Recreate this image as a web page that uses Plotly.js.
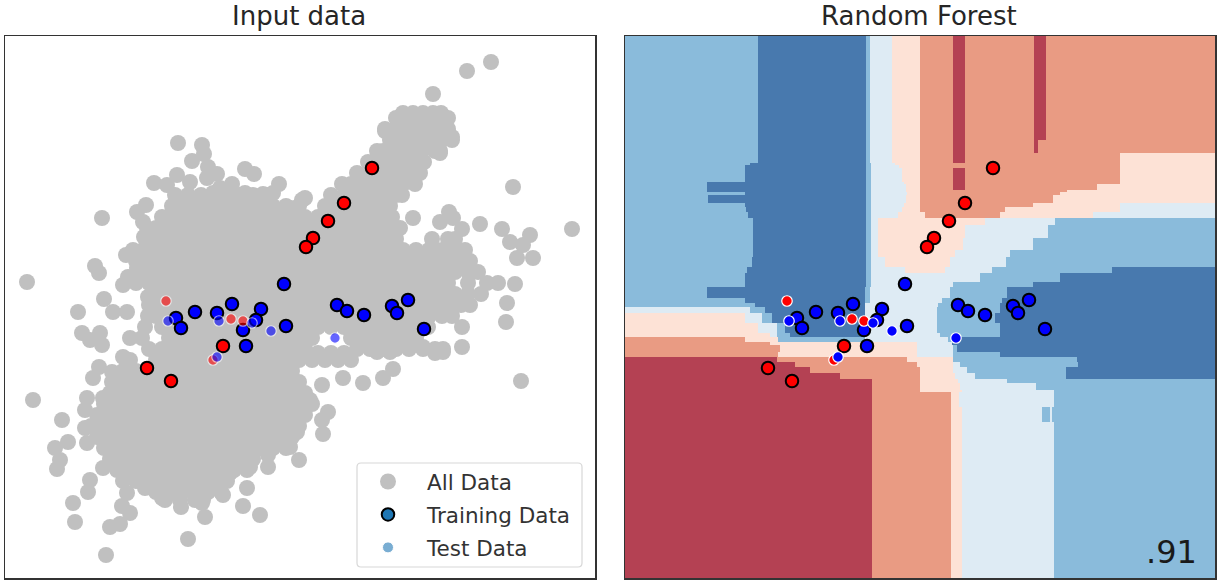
<!DOCTYPE html>
<html>
<head>
<meta charset="utf-8">
<script src="https://cdn.plot.ly/plotly-3.0.1.min.js"></script>
<style>html,body{margin:0;padding:0;background:#fff}</style>
</head>
<body>
<div id="chart" style="width:1221px;height:584px"></div>
<script>
// Body of the grey "All Data" cloud, row by row: [y, x values]
const allDataRows = [
[113,[403,413,423,433,441]],
[118,[396,403,416,429,442,448]],
[129,[385,396,409,422,435,448]],
[140,[390,403,416,429,442,452]],
[151,[377,383,396,409,422,435,440]],
[162,[368,377,390,403,416,424]],
[173,[357,370,383,396,409,420]],
[184,[342,351,364,377,390,403,415]],
[195,[175,188,201,214,227,240,253,266,331,344,357,370,383,396,402]],
[206,[172,182,195,208,221,234,247,260,273,286,299,325,338,351,364,377,390]],
[217,[162,175,188,201,214,227,240,253,266,279,292,305,318,331,344,357,370,383,392]],
[228,[147,156,169,182,195,208,221,234,247,260,273,286,299,312,325,338,351,364,377,390,400]],
[239,[149,162,175,188,201,214,227,240,253,266,279,292,305,318,331,344,357,370,383,396,432,448,455]],
[250,[143,156,169,182,195,208,221,234,247,260,273,286,299,312,325,338,351,364,377,390,403,416,429,442,455,465]],
[261,[136,149,162,175,188,201,214,227,240,253,266,279,292,305,318,331,344,357,370,383,396,409,422,435,448,461,470]],
[272,[143,156,169,182,195,208,221,234,247,260,273,286,299,312,325,338,351,364,377,390,403,416,429,442,455,468,478]],
[283,[136,149,162,175,188,201,214,227,240,253,266,279,292,305,318,331,344,357,370,383,396,409,422,435,448,468,487,498]],
[294,[156,169,182,195,208,221,234,247,260,273,286,299,312,325,338,351,364,377,390,403,416,429,442,455,468,481]],
[305,[149,162,175,188,201,214,227,240,253,266,279,292,305,318,331,344,357,370,383,396,409,422,435,448,461,470]],
[316,[148,156,169,182,195,208,221,234,247,260,273,286,299,312,325,338,351,364,377,390,403,416,429,442,452]],
[327,[145,162,175,188,201,214,227,240,253,266,279,292,305,318,331,344,357,370,383,396,409,422,428]],
[338,[130,142,169,182,195,208,221,234,247,260,273,286,299,312,351,364,377,390,403,416]],
[349,[149,162,175,188,201,214,227,240,253,266,279,292,305,357,370,383,396,409,423,435,443]],
[353,[318,331,344]],
[360,[130,156,169,182,195,208,221,234,247,260,273,286,299,312,325,338,351]],
[371,[123,136,149,162,175,188,201,214,227,240,253,266,279,292]],
[382,[118,130,143,156,169,182,195,208,221,234,247,260,273,286,299]],
[393,[110,123,136,149,162,175,188,201,214,227,240,253,266,279,292,305]],
[404,[104,117,130,143,156,169,182,195,208,221,234,247,260,273,286,299,312]],
[415,[97,110,123,136,149,162,175,188,201,214,227,240,253,266,279,292,305]],
[426,[91,104,117,130,143,156,169,182,195,208,221,234,247,260,273,286,299]],
[437,[97,110,123,136,149,162,175,188,201,214,227,240,253,266,279,292]],
[448,[104,117,130,143,156,169,182,195,208,221,234,247,260,273,286]],
[459,[110,123,136,149,162,175,188,201,214,227,240,253]],
[470,[117,130,143,156,169,182,195,208,221,234,247]],
[481,[123,136,149,162,175,188,201,214,227]],
[492,[156,169,182,195,208,221]],
[500,[165,180,195,203]]
];
// Scattered grey points around the cloud
const outlierX = [433,467,491,513,572,385,452,440,305,413,449,440,462,453,480,502,510,523,530,517,533,515,507,506,462,462,521,443,435,423,393,383,363,343,322,390,377,
178,202,204,192,208,217,245,254,279,232,177,190,154,167,207,263,273,245,268,290,302,220,213,137,146,143,102,144,126,133,95,99,27,123,128,137,104,148,
78,113,127,82,100,90,102,123,99,93,112,112,87,33,85,103,62,85,68,87,55,60,57,103,90,88,73,75,110,120,106,188,205,181,130,122,127,145,162,202,223,243,260,247,230,250,268,268,299,290,297,323,322,328,310];
const outlierY = [94,71,62,187,229,131,137,153,198,218,212,222,229,218,224,229,242,245,235,258,258,284,303,322,327,347,381,352,353,347,369,378,383,378,385,352,352,
143,145,154,161,167,174,169,174,184,184,175,182,183,185,178,194,193,193,207,208,200,188,193,212,205,222,218,237,255,250,266,273,282,285,277,268,299,297,
312,312,312,333,333,340,345,357,367,378,372,382,398,400,410,398,420,428,442,443,448,460,469,468,480,492,503,522,527,524,555,539,517,507,513,506,493,488,498,503,495,506,515,488,473,467,467,455,460,447,432,434,420,412,400];

const trainBlueX = [284,232,195,261,217,176,181,256,243,286,246,337,347,364,392,397,408,424];
const trainBlueY = [284,304,312,309,313,318,328,320,330,326,346,305,311,315,306,313,300,329];
const trainRedX = [372,344,328,313,306,223,147,171];
const trainRedY = [168,203,221,238,247,346,368,381];
const testRedX = [166,231,243,213];
const testRedY = [301,319,321,360];
const testBlueX = [168,219,252,271,217,335];
const testBlueY = [321,321,323,331,357,338];

// Forest decision regions, one row per band: [band bottom, level, right end, level, right end, ...]
// levels: 0 dark red, 1 salmon, 2 peach, 3 pale blue, 4 mid blue, 5 dark blue
const regionTop = 36;
const regionLeft = 625;
const regionRows = [
[140,4,758,5,866,4,870,3,892,2,920,1,953,0,965,1,1034,0,1046,1,1215],
[153,4,758,5,866,4,870,3,892,2,920,1,953,0,965,1,1034,0,1038,1,1215],
[163,4,758,5,866,4,870,3,892,2,920,1,953,0,965,1,1120,2,1215],
[165,4,750,5,866,4,871,3,895,2,920,1,1120,2,1215],
[168,4,745,5,866,4,871,3,899,2,920,1,1120,2,1215],
[182,4,745,5,866,4,871,3,902,2,920,1,953,0,965,1,1120,2,1215],
[184,4,707,5,866,4,871,3,904,2,920,1,953,0,965,1,1120,2,1215],
[190,4,707,5,866,4,871,3,906,2,920,1,953,0,965,1,1097,2,1215],
[192,4,707,5,866,4,871,3,906,2,920,1,1067,2,1215],
[195,4,745,5,866,4,871,3,907,2,920,1,1060,2,1215],
[203,4,708,5,866,4,871,3,906,2,920,1,1053,2,1215],
[207,4,745,5,866,4,871,3,904,2,920,1,1033,2,1120,3,1215],
[212,4,746,5,866,4,871,3,902,2,920,1,1005,2,1120,3,1215],
[218,4,748,5,866,4,871,3,898,2,925,1,1000,2,1093,3,1215],
[225,4,753,5,866,4,871,3,878,2,985,3,1055,4,1215],
[238,4,753,5,866,4,871,3,878,2,965,3,1048,4,1215],
[250,4,753,5,866,4,871,3,878,2,963,3,1033,4,1215],
[257,4,753,5,866,4,871,3,878,2,955,3,1010,4,1215],
[267,4,752,5,866,4,871,3,885,2,950,3,1006,4,1215],
[273,4,747,5,866,4,871,3,905,2,945,3,992,4,1112,5,1215],
[282,4,745,5,866,4,871,3,980,4,1060,5,1215],
[287,4,745,5,866,4,871,3,953,4,1033,5,1215],
[298,4,707,5,865,4,870,3,950,4,1007,5,1215],
[303,4,745,5,865,4,870,3,942,4,1002,5,1215],
[307,4,755,5,865,3,938,4,1000,5,1215],
[313,3,750,4,765,5,865,3,937,4,1000,5,1215],
[323,2,745,3,762,4,772,5,865,3,937,4,995,5,1215],
[333,2,758,3,777,4,785,5,865,3,937,4,1000,5,1215],
[337,2,770,3,777,4,790,5,865,3,940,4,1000,5,1215],
[342,1,745,2,778,4,865,3,948,4,958,5,1215],
[345,1,770,2,917,3,952,5,1215],
[352,1,780,2,917,3,953,4,957,5,1215],
[357,1,778,2,917,3,953,4,1000,5,1215],
[362,0,777,1,907,2,953,4,1077,5,1215],
[367,0,795,1,917,2,953,3,960,4,1078,5,1215],
[373,0,810,1,920,2,953,3,967,4,1066,5,1215],
[379,0,840,1,920,2,955,3,975,4,1066,5,1215],
[383,0,872,1,920,2,958,3,1007,4,1215],
[390,0,872,1,920,2,960,3,1036,4,1215],
[392,0,872,1,920,2,962,3,1054,4,1215],
[407,0,872,1,951,2,959,3,1054,4,1215],
[422,0,872,1,951,2,962,3,1042,4,1050,3,1052,4,1215],
[578,0,872,1,951,2,962,3,1054,4,1215]
];
const regionColors = ['#b44153','#e99b83','#fde2d6','#deebf4','#8abbdb','#4879ae'];
const panelOffset = 621;

// Decode the band table into the heatmap's edges and z matrix
const xEdgeSet = new Set([regionLeft]);
regionRows.forEach(r => { for (let i = 2; i < r.length; i += 2) xEdgeSet.add(r[i]); });
const xEdges = [...xEdgeSet].sort((a, b) => a - b);
const yEdges = [regionTop].concat(regionRows.map(r => r[0]));
const zGrid = regionRows.map(r => {
  const row = [];
  for (let c = 0; c < xEdges.length - 1; c++) {
    let i = 1;
    while (r[i + 1] <= xEdges[c]) i += 2;
    row.push(r[i]);
  }
  return row;
});

const allDataX = allDataRows.flatMap(r => r[1]).concat(outlierX);
const allDataY = allDataRows.flatMap(r => r[1].map(() => r[0])).concat(outlierY);

const scale = [
 [0,regionColors[0]],[.1,regionColors[0]],[.1,regionColors[1]],[.3,regionColors[1]],
 [.3,regionColors[2]],[.5,regionColors[2]],[.5,regionColors[3]],[.7,regionColors[3]],
 [.7,regionColors[4]],[.9,regionColors[4]],[.9,regionColors[5]],[1,regionColors[5]]
];

const TR = {size:12.5, line:{color:'#000',width:2}};
const TE = {size:10.5, line:{color:'#fff',width:1.2}};
function pts(x,y,xa,ya,color,base,opacity){
  return {type:'scatter',mode:'markers',x,y,xaxis:xa,yaxis:ya,showlegend:false,hoverinfo:'skip',
    marker:Object.assign({color,opacity:opacity===undefined?1:opacity},base)};
}
const traces = [
 {type:'heatmap',x:xEdges.map(v=>v-panelOffset),y:yEdges,z:zGrid,zmin:0,zmax:5,colorscale:scale,showscale:false,xaxis:'x2',yaxis:'y2',hoverinfo:'skip'},
 {type:'scatter',mode:'markers',name:'All Data',x:allDataX,y:allDataY,xaxis:'x',yaxis:'y',legendgroup:'a',showlegend:true,hoverinfo:'skip',
  marker:{color:'#c0c0c0',size:16}},
 pts(trainBlueX,trainBlueY,'x','y','#0000ff',TR),
 pts(trainRedX,trainRedY,'x','y','#ff0000',TR),
 pts(testRedX,testRedY,'x','y','#ff0000',TE,0.6),
 pts(testBlueX,testBlueY,'x','y','#0000ff',TE,0.6),
 pts(trainBlueX,trainBlueY,'x2','y2','#0000ff',TR),
 pts(trainRedX,trainRedY,'x2','y2','#ff0000',TR),
 pts(testRedX,testRedY,'x2','y2','#ff0000',TE),
 pts(testBlueX,testBlueY,'x2','y2','#0000ff',TE),
 {type:'scatter',mode:'markers',name:'Training Data',x:[null],y:[null],xaxis:'x',yaxis:'y',legendgroup:'b',
  marker:{color:'#1f77b4',size:12.5,line:{color:'#000',width:2}}},
 {type:'scatter',mode:'markers',name:'Test Data',x:[null],y:[null],xaxis:'x',yaxis:'y',legendgroup:'c',
  marker:{color:'rgba(31,119,180,0.6)',size:11,line:{color:'#fff',width:1}}}
];

const W=1221,H=584;
const fx=v=>v/W, fy=v=>1-v/H;
function rounded(x0,y0,x1,y1,r){
  return `M${fx(x0+r)},${fy(y0)} L${fx(x1-r)},${fy(y0)} Q${fx(x1)},${fy(y0)} ${fx(x1)},${fy(y0+r)} L${fx(x1)},${fy(y1-r)} Q${fx(x1)},${fy(y1)} ${fx(x1-r)},${fy(y1)} L${fx(x0+r)},${fy(y1)} Q${fx(x0)},${fy(y1)} ${fx(x0)},${fy(y1-r)} L${fx(x0)},${fy(y0+r)} Q${fx(x0)},${fy(y0)} ${fx(x0+r)},${fy(y0)} Z`;
}
const axisBase={showgrid:false,zeroline:false,showticklabels:false,ticks:'',showline:true,mirror:true,linecolor:'#333',linewidth:1.5,fixedrange:true};
const font='"DejaVu Sans", sans-serif';
const layout={
 width:W,height:H,margin:{l:0,r:0,t:0,b:0},paper_bgcolor:'#fff',plot_bgcolor:'#fff',
 xaxis:Object.assign({},axisBase,{domain:[5/W,595/W],range:[5,595],anchor:'y'}),
 yaxis:Object.assign({},axisBase,{domain:[fy(578),fy(36)],range:[578,36],anchor:'x'}),
 xaxis2:Object.assign({},axisBase,{domain:[625/W,1215/W],range:[4,594],anchor:'y2'}),
 yaxis2:Object.assign({},axisBase,{domain:[fy(578),fy(36)],range:[578,36],anchor:'x2'}),
 showlegend:true,
 legend:{x:fx(349),y:fy(461),xanchor:'left',yanchor:'top',bgcolor:'rgba(0,0,0,0)',borderwidth:0,itemwidth:68,tracegroupgap:2,
  font:{family:font,size:21.5,color:'#333'},traceorder:'grouped',itemclick:false,itemdoubleclick:false},
 shapes:[{type:'path',xref:'paper',yref:'paper',layer:'above',path:rounded(357,463,582,567,4),
  fillcolor:'rgba(255,255,255,0.8)',line:{color:'#d8d8d8',width:1.2}}],
 annotations:[
  {xref:'paper',yref:'paper',x:fx(299),y:fy(15.6),text:'Input data',showarrow:false,xanchor:'center',yanchor:'middle',font:{family:font,size:26,color:'#262626'}},
  {xref:'paper',yref:'paper',x:fx(918.5),y:fy(15.6),text:'Random Forest',showarrow:false,xanchor:'center',yanchor:'middle',font:{family:font,size:26,color:'#262626'}},
  {xref:'paper',yref:'paper',x:fx(1199),y:fy(552),text:'.91',showarrow:false,xanchor:'right',yanchor:'middle',font:{family:font,size:32,color:'#1a1a1a'}}
 ]
};
Plotly.newPlot('chart',traces,layout,{displayModeBar:false,staticPlot:true});
</script>
</body>
</html>
